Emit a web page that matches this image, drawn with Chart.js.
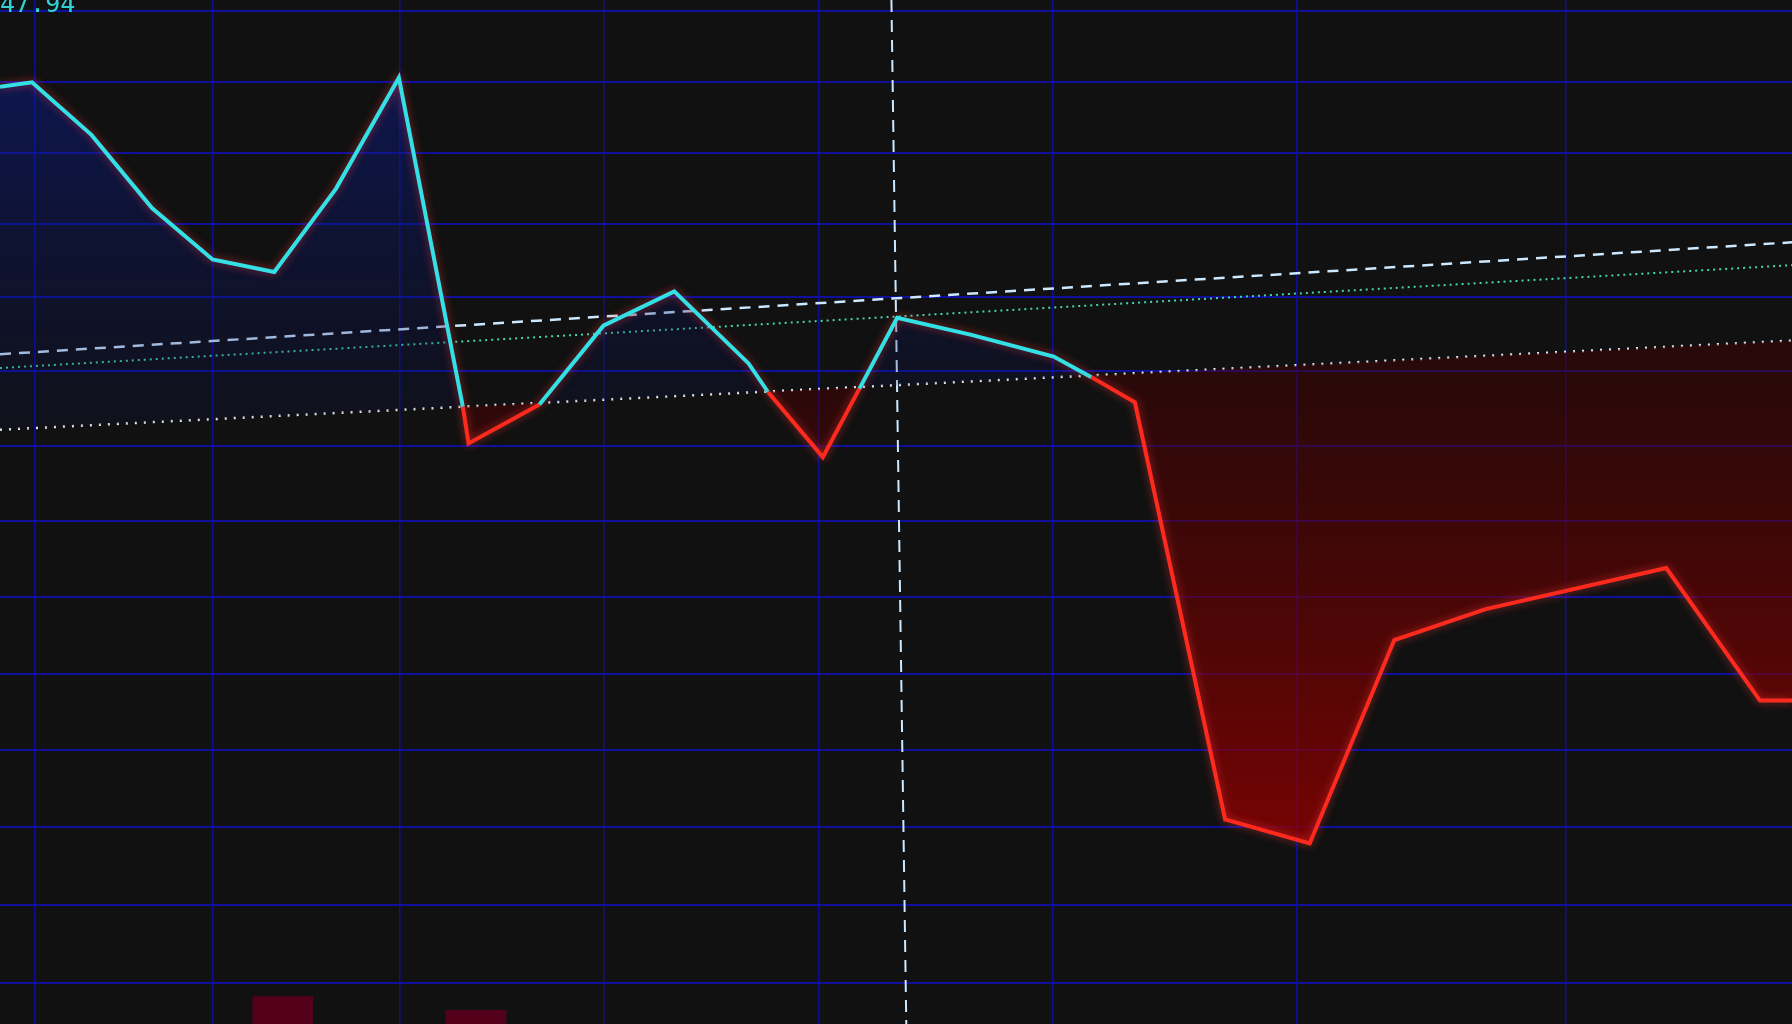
<!DOCTYPE html>
<html>
<head>
<meta charset="utf-8">
<script src="https://cdn.jsdelivr.net/npm/chart.js@4.4.1/dist/chart.umd.min.js"></script>
<style>
  html, body { margin: 0; padding: 0; background: #111111; overflow: hidden; }
  #wrap { width: 1792px; height: 1024px; position: relative; }
</style>
</head>
<body>
<div id="wrap"><canvas id="chart"></canvas></div>
<script>
// price path (x = time, y = price)
const priceX = [0, 2.8, 8.0, 13.3, 18.6, 24.0, 29.4, 34.9, 40.5, 41.0, 47.2, 52.8, 59.0, 65.5, 67.2, 72.0, 75.2, 78.5, 85.0, 92.2, 95.5, 99.3, 107.2, 114.6, 122.0, 130.0, 145.8, 154.0, 156.8];
const priceY = [82.0, 82.4, 77.8, 71.4, 66.9, 65.8, 73.1, 82.8, 54.0, 50.8, 54.2, 61.1, 64.1, 57.8, 55.3, 49.6, 55.6, 61.8, 60.3, 58.4, 56.6, 54.4, 17.9, 15.8, 33.6, 36.3, 39.9, 28.3, 28.3];

// reference lines: start / end
const baseX = [0, 156.8];
const baseY = [52.0, 59.8];
const dashY = [58.6, 68.4];
const greenY = [57.4, 66.4];
const cursorX = [78.0, 79.3];
const cursorY = [89.6, 0];

// volume bars at the bottom
const volX = [24.75, 41.65];
const volY = [2.4, 1.2];

// grid positions
const gridX = [3.0, 18.6, 35.0, 52.8, 71.6, 92.1, 113.5, 137.0];
const gridY = [88.6, 82.4, 76.2, 70.0, 63.6, 57.1, 50.6, 44.0, 37.4, 30.6, 24.0, 17.2, 10.4, 3.6];

const label = '47.94';

const pts = (xs, ys) => xs.map((x, i) => ({ x: x, y: ys[i] }));
const baseAt = x => baseY[0] + (baseY[1] - baseY[0]) * (x - baseX[0]) / (baseX[1] - baseX[0]);

const ctx = document.getElementById('chart').getContext('2d');
const blueFill = ctx.createLinearGradient(0, 0, 0, 440);
blueFill.addColorStop(0, 'rgba(10, 30, 150, 0.6)');
blueFill.addColorStop(1, 'rgba(10, 20, 90, 0.12)');
const redFill = ctx.createLinearGradient(0, 360, 0, 860);
redFill.addColorStop(0, 'rgba(70, 0, 0, 0.45)');
redFill.addColorStop(1, 'rgba(150, 0, 0, 0.8)');

const cornerText = {
  id: 'cornerText',
  afterDraw(chart) {
    const c = chart.ctx;
    c.save();
    c.fillStyle = '#2fd3d3';
    c.font = '25px "DejaVu Sans Mono"';
    c.textBaseline = 'alphabetic';
    c.fillText(label, 0, 12);
    c.restore();
  }
};

const glow = {
  id: 'glow',
  beforeDatasetDraw(chart, args) {
    if (args.index === 0) {
      chart.ctx.save();
      chart.ctx.shadowColor = 'rgba(255, 60, 60, 0.6)';
      chart.ctx.shadowBlur = 8;
    }
  },
  afterDatasetDraw(chart, args) {
    if (args.index === 0) chart.ctx.restore();
  }
};

new Chart(ctx, {
  type: 'line',
  data: {
    datasets: [
      {
        data: pts(priceX, priceY),
        borderColor: '#33e0e6',
        borderWidth: 4,
        pointRadius: 0,
        tension: 0,
        fill: { target: 1, above: blueFill, below: redFill },
        segment: {
          borderColor: s => {
            const mx = (s.p0.parsed.x + s.p1.parsed.x) / 2;
            const my = (s.p0.parsed.y + s.p1.parsed.y) / 2;
            return my < baseAt(mx) ? '#ff2a1e' : '#33e0e6';
          }
        },
        order: 1
      },
      {
        data: pts(baseX, baseY),
        borderColor: '#e8f4ff',
        borderWidth: 2.5,
        borderDash: [2, 7],
        pointRadius: 0,
        fill: false,
        order: 2
      },
      {
        data: pts(baseX, dashY),
        borderColor: '#cde9ff',
        borderWidth: 2.5,
        borderDash: [11, 8],
        pointRadius: 0,
        fill: false,
        order: 2
      },
      {
        data: pts(baseX, greenY),
        borderColor: '#45d6b0',
        borderWidth: 2,
        borderDash: [2, 4],
        pointRadius: 0,
        fill: false,
        order: 2
      },
      {
        data: pts(cursorX, cursorY),
        borderColor: '#cde9ff',
        borderWidth: 2,
        borderDash: [12, 8],
        pointRadius: 0,
        fill: false,
        order: 2
      },
      {
        type: 'bar',
        data: pts(volX, volY),
        backgroundColor: '#55001a',
        barThickness: 60,
        order: 3
      }
    ]
  },
  options: {
    responsive: true,
    maintainAspectRatio: false,
    animation: false,
    layout: { padding: 0 },
    plugins: { legend: { display: false }, tooltip: { enabled: false } },
    scales: {
      x: {
        type: 'linear',
        min: 0,
        max: 156.8,
        offset: false,
        afterBuildTicks: axis => { axis.ticks = gridX.map(v => ({ value: v })); },
        ticks: { display: false },
        border: { display: false },
        grid: { color: '#0e0e94', lineWidth: 1.5, drawTicks: false, offset: false }
      },
      y: {
        min: 0,
        max: 89.6,
        afterBuildTicks: axis => { axis.ticks = gridY.map(v => ({ value: v })); },
        ticks: { display: false },
        border: { display: false },
        grid: { color: '#10109c', lineWidth: 2, drawTicks: false }
      }
    }
  },
  plugins: [cornerText, glow]
});
</script>
</body>
</html>
